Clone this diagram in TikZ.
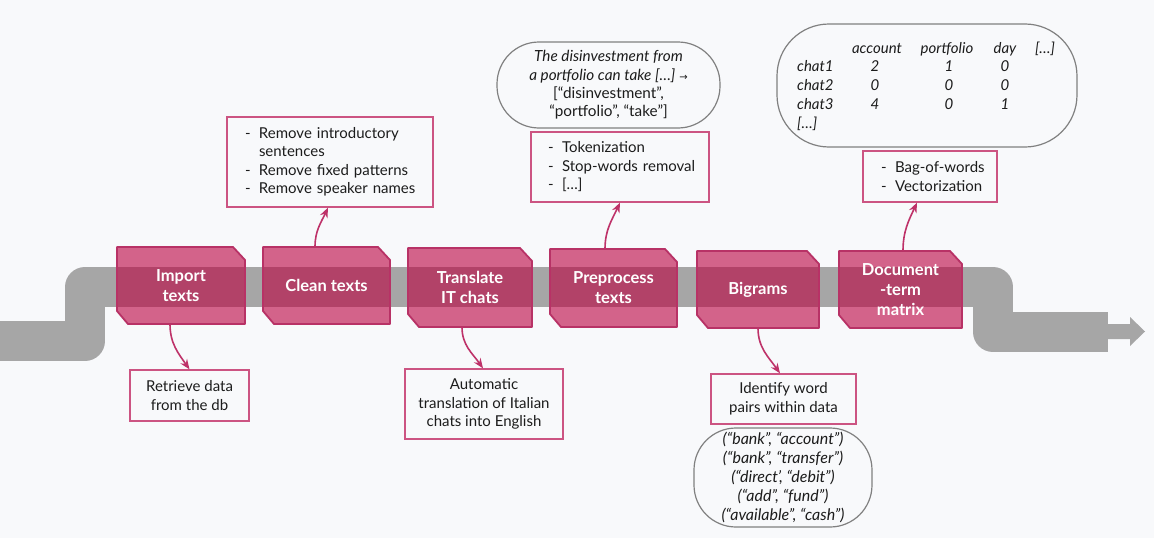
\documentclass[tikz,border=0pt]{standalone}
\usepackage{fontspec}
\setmainfont{Lato}
\newfontfamily\arrowfont{DejaVu Sans}
\usetikzlibrary{arrows.meta}
\definecolor{bg}{RGB}{248,249,251}
\definecolor{band}{RGB}{166,166,166}
\definecolor{boxfill}{RGB}{187,0,64}
\definecolor{boxedge}{RGB}{184,50,102}
\definecolor{annedge}{RGB}{204,84,130}
\definecolor{conncol}{RGB}{190,50,105}
\definecolor{cloudedge}{RGB}{128,128,128}
\definecolor{txt}{RGB}{28,28,28}
\newcommand\procbox[6]{%
  \filldraw[procshape] (#2,#3) -- (#4-12,#3) -- (#4,#3+13) -- (#4,#5) -- (#2+11,#5) -- (#2,#5-13) -- cycle;
  \node[proctext, minimum width=#4-#2, minimum height=#5-#3] (#1) at ({(#2+#4)/2},{(#3+#5)/2}) {#6};
}
\tikzset{
  procshape/.style={fill=boxfill, fill opacity=0.6, draw=boxedge, line width=1.8pt, line join=round},
  proctext/.style={text=white, font=\bfseries\fontsize{16.5}{20}\selectfont, align=center, inner sep=0pt},
  ann/.style={draw=annedge, line width=1.3pt, inner sep=0pt, font=\fontsize{15}{18.5}\selectfont, text=txt},
  graybox/.style={draw=cloudedge, line width=1.2pt, inner sep=0pt, text=txt},
  connector/.style={draw=conncol, line width=1.6pt, -{Stealth[length=10pt,width=8pt]}},
  mcell/.style={font=\itshape\fontsize{15}{18}\selectfont, text=txt, inner sep=0pt, text height=10pt, text depth=3pt},
}
\newcommand\dash{\makebox[14pt][l]{-}}
\begin{document}
\begin{tikzpicture}[x=1pt,y=-1pt]
\fill[bg] (0,0) rectangle (1154,538);
\useasboundingbox (0,0) rectangle (1154,538);
% grey band
\draw[band, line width=40pt, line join=round] (0,341) -- (85,341) -- (85,287) -- (993,287) -- (993,332) -- (1108,332);
\fill[band] (1107,324) -- (1130,324) -- (1130,317) -- (1145,331.5) -- (1130,346) -- (1130,339) -- (1107,339) -- cycle;
% process boxes
\procbox{p1}{117}{247}{245}{324}{Import\\texts}
\procbox{p2}{263}{247}{390}{324}{Clean texts}
\procbox{p3}{408}{248}{532}{327}{Translate\\IT chats}
\procbox{p4}{550}{249}{677}{327}{Preprocess\\texts}
\procbox{p5}{697}{251}{819}{328}{Bigrams}
\procbox{p6}{839}{251}{962}{328}{\fontsize{16.5}{21}\selectfont Document\\-term\\matrix}
% annotation boxes
\node[ann, minimum width=119, minimum height=51, align=center] (a1) at (189.5,395.5) {Retrieve data\\from the db};
\node[ann, minimum width=206, minimum height=90, text width=170, align=left] (a2) at (330,162)
  {\dash\mbox{Remove introductory}\\\hspace*{14pt}sentences\\\dash\mbox{Remove fixed patterns}\\\dash\mbox{Remove speaker names}};
\node[ann, minimum width=158, minimum height=70, align=center] (a3) at (484,404) {Automatic\\translation of Italian\\chats into English};
\node[ann, minimum width=178, minimum height=70, text width=144, align=left] (a4) at (620,167)
  {\dash\mbox{Tokenization}\\\dash\mbox{Stop-words removal}\\\dash\mbox{[…]}};
\node[ann, minimum width=145, minimum height=50, align=center] (a5) at (783.5,399) {Identify word\\pairs within data};
\node[ann, minimum width=134, minimum height=51, text width=98, align=left] (a6) at (930,176.5)
  {\dash\mbox{Bag-of-words}\\\dash\mbox{Vectorization}};
% grey rounded boxes
\node[graybox, rounded corners=42pt, minimum width=223, minimum height=86, align=center,
      font=\fontsize{15.3}{18.3}\selectfont] (g1) at (608.5,85)
  {\textit{The disinvestment from}\\\textit{a portfolio can take […]} {\arrowfont\fontsize{10}{10}\selectfont →}\\{[}“disinvestment”,\\“portfolio”, “take”{]}};
\node[graybox, rounded corners=52pt, minimum width=300, minimum height=123] (g2) at (927,85.5) {};
\node[graybox, rounded corners=42pt, minimum width=178, minimum height=99, align=center,
      font=\itshape\fontsize{16}{18.8}\selectfont] (g3) at (783,477.5)
  {(“bank”, “account”)\\(“bank”, “transfer”)\\(“direct’, “debit”)\\(“add”, “fund”)\\(“available”, “cash”)};
% matrix contents
\node[mcell] (mh1) at (877,50) {account};
\node[mcell] (mh2) at (947,50) {portfolio};
\node[mcell] (mh3) at (1005,50) {day};
\node[mcell] (mh4) at (1045,50) {[…]};
\node[mcell, anchor=west] (mr1) at (797,68) {chat1};
\node[mcell, anchor=west] (mr2) at (797,87) {chat2};
\node[mcell, anchor=west] (mr3) at (797,106) {chat3};
\node[mcell, anchor=west] (mr4) at (797,125) {[…]};
\node[mcell] (m11) at (875,68) {2};
\node[mcell] (m12) at (949,68) {1};
\node[mcell] (m13) at (1005,68) {0};
\node[mcell] (m21) at (875,87) {0};
\node[mcell] (m22) at (949,87) {0};
\node[mcell] (m23) at (1005,87) {0};
\node[mcell] (m31) at (875,106) {4};
\node[mcell] (m32) at (949,106) {0};
\node[mcell] (m33) at (1005,106) {1};
% connectors
\draw[connector] ([xshift=-11]p1.south) to[out=-90,in=125] (a1.north);
\draw[connector] ([xshift=-11.5]p2.north) to[out=90,in=-115] ([xshift=-2]a2.south);
\draw[connector] ([xshift=-8]p3.south) to[out=-90,in=125] ([xshift=-1]a3.north);
\draw[connector] ([xshift=-8.5]p4.north) to[out=90,in=-115] (a4.south);
\draw[connector] ([xshift=0]p5.south) to[out=-90,in=125] ([xshift=-3.5]a5.north);
\draw[connector] ([xshift=2.5]p6.north) to[out=90,in=-115] ([xshift=-13]a6.south);
\end{tikzpicture}
\end{document}
